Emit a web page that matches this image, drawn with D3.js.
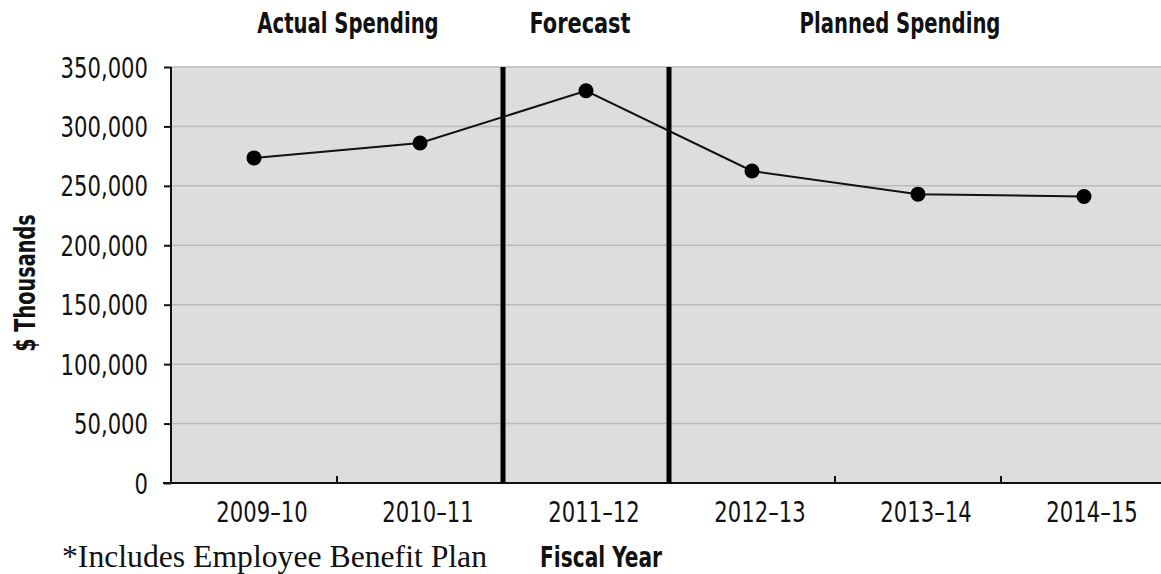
<!DOCTYPE html>
<html>
<head>
<meta charset="utf-8">
<script src="https://cdn.jsdelivr.net/npm/d3@7"></script>
<style>
  body { margin: 0; background: #fff; }
  text { font-family: "DejaVu Sans Condensed", "DejaVu Sans", sans-serif; fill: #111; }
</style>
</head>
<body>
<div id="chart"></div>
<script>
// data
var years = ["2009\u201310", "2010\u201311", "2011\u201312", "2012\u201313", "2013\u201314", "2014\u201315"];
var spending = [273500, 286000, 330000, 262500, 243000, 241000];
var yTicks = [0, 50000, 100000, 150000, 200000, 250000, 300000, 350000];
var sections = ["Actual Spending", "Forecast", "Planned Spending"];
var sectionStart = [0, 2, 3];
var sectionEnd = [1, 2, 5];
var dividers = [2, 3]; // thick lines before these categories

var w = 1161, h = 574;
var plotLeft = 171, plotRight = 1167, plotTop = 67, plotBottom = 483;
var squeeze = 0.84;     // the original font is a tall condensed face
var boldSqueeze = 0.78;

var svg = d3.select("#chart").append("svg")
    .attr("width", w)
    .attr("height", h);

var xScale = d3.scaleBand().domain(years).range([plotLeft, plotRight]);
var yScale = d3.scaleLinear().domain([0, 350000]).range([plotBottom, plotTop]);

// plot background
svg.append("rect")
    .attr("x", plotLeft).attr("y", plotTop)
    .attr("width", plotRight - plotLeft).attr("height", plotBottom - plotTop)
    .attr("fill", "#dcdddf");

// gridlines
svg.selectAll(".grid")
    .data(yTicks.slice(1))
    .join("line")
    .attr("x1", plotLeft).attr("x2", plotRight)
    .attr("y1", function(d) { return yScale(d); })
    .attr("y2", function(d) { return yScale(d); })
    .attr("stroke", "#b9babc")
    .attr("stroke-width", 1.5);

// y axis
var yAxis = d3.axisLeft(yScale)
    .tickValues(yTicks)
    .tickFormat(d3.format(","))
    .tickSize(7);
var gy = svg.append("g")
    .attr("transform", "translate(" + plotLeft + ",0)")
    .call(yAxis);
gy.select(".domain").attr("stroke", "#111").attr("stroke-width", 2).attr("d", "M0," + plotTop + "V" + plotBottom);
gy.selectAll(".tick line").attr("stroke", "#111").attr("stroke-width", 2);
gy.selectAll(".tick text")
    .style("font-size", "28px")
    .attr("x", -23 / squeeze)
    .attr("dy", "0.36em")
    .attr("transform", "scale(" + squeeze + ",1)");

// x axis
var xAxis = d3.axisBottom(xScale).tickSize(0);
var gx = svg.append("g")
    .attr("transform", "translate(0," + plotBottom + ")")
    .call(xAxis);
gx.select(".domain").attr("stroke", "#111").attr("stroke-width", 2).attr("d", "M" + (plotLeft - 8) + ",0H" + plotRight);
gx.selectAll(".tick text")
    .style("font-size", "28px")
    .attr("x", 8 / squeeze)
    .attr("y", 39)
    .attr("dy", null)
    .attr("transform", "scale(" + squeeze + ",1)");

// small upward ticks at band boundaries
svg.selectAll(".xb")
    .data(years.slice(1))
    .join("line")
    .attr("x1", function(d) { return xScale(d); })
    .attr("x2", function(d) { return xScale(d); })
    .attr("y1", plotBottom).attr("y2", plotBottom - 7)
    .attr("stroke", "#111")
    .attr("stroke-width", 2);

// section dividers
svg.selectAll(".divider")
    .data(dividers)
    .join("line")
    .attr("x1", function(i) { return xScale(years[i]); })
    .attr("x2", function(i) { return xScale(years[i]); })
    .attr("y1", plotTop).attr("y2", plotBottom)
    .attr("stroke", "#000")
    .attr("stroke-width", 5);

// line + dots
var line = d3.line()
    .x(function(d, i) { return xScale(years[i]) + xScale.bandwidth() / 2; })
    .y(function(d) { return yScale(d); });

svg.append("path")
    .datum(spending)
    .attr("d", line)
    .attr("fill", "none")
    .attr("stroke", "#111")
    .attr("stroke-width", 2);

svg.selectAll(".dot")
    .data(spending)
    .join("circle")
    .attr("cx", function(d, i) { return xScale(years[i]) + xScale.bandwidth() / 2; })
    .attr("cy", function(d) { return yScale(d); })
    .attr("r", 7.5)
    .attr("fill", "#000");

// bold condensed label helper
function boldLabel(x, y, txt, size, sx, rotate) {
    var g = svg.append("g")
        .attr("transform", "translate(" + x + "," + y + ")" + (rotate ? " rotate(-90)" : ""));
    g.append("text")
        .attr("text-anchor", "middle")
        .attr("transform", "scale(" + sx + ",1)")
        .style("font-size", size + "px")
        .style("font-weight", "bold")
        .text(txt);
}

// section headings
var headOffset = [11, -6, -18];
sections.forEach(function(s, i) {
    var a = xScale(years[sectionStart[i]]);
    var b = xScale(years[sectionEnd[i]]) + xScale.bandwidth();
    boldLabel((a + b) / 2 + headOffset[i], 33, s, 28, i == 1 ? 0.83 : boldSqueeze);
});

// axis titles
boldLabel(35, 283, "$ Thousands", 29, 0.74, true);
boldLabel(601, 567, "Fiscal Year", 28, 0.8);

svg.append("text")
    .attr("x", 62).attr("y", 567)
    .style("font-family", "'Liberation Serif', 'Times New Roman', serif")
    .style("font-size", "31.7px")
    .text("*Includes Employee Benefit Plan");
</script>
</body>
</html>
